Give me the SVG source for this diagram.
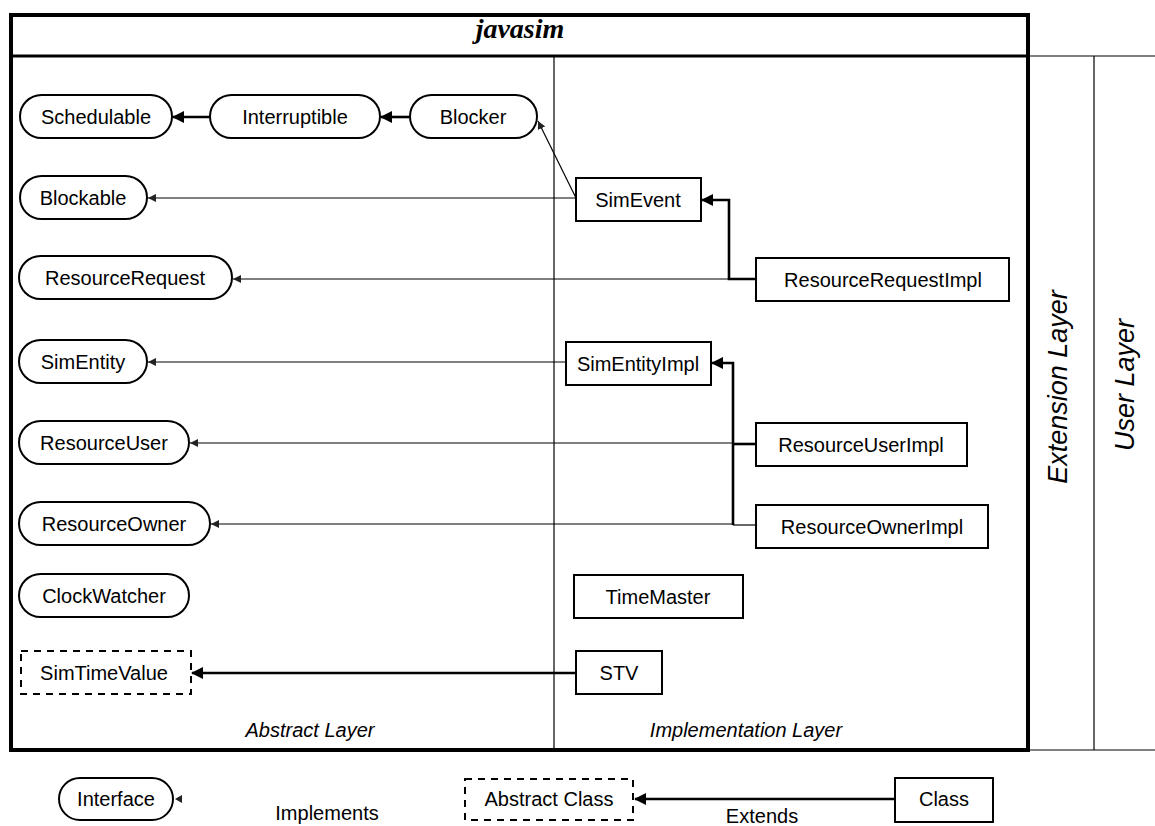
<svg xmlns="http://www.w3.org/2000/svg" width="1155" height="826" viewBox="0 0 1155 826">
<style>
text{font-family:"Liberation Sans",Arial,sans-serif;font-size:20px;fill:#000}
.lbl{text-anchor:middle}
.pill{fill:#fff;stroke:#000;stroke-width:2}
.box{fill:#fff;stroke:#000;stroke-width:2}
.dash{fill:#fff;stroke:#000;stroke-width:2;stroke-dasharray:7 6}
.impl{fill:none;stroke:#000;stroke-width:1.2}
.ext{fill:none;stroke:#000;stroke-width:2.6}
.frame{fill:none;stroke:#000;stroke-width:4}
.thin{fill:none;stroke:#000;stroke-width:1.2}
.layer{font-style:italic;text-anchor:middle}
.side{font-style:italic;text-anchor:middle;font-size:27px}
</style>
<defs>
<marker id="aExt" viewBox="0 0 12 12" refX="11" refY="6" markerWidth="12" markerHeight="12" markerUnits="userSpaceOnUse" orient="auto">
<path d="M0,0 L12,6 L0,12 z" fill="#000"/>
</marker>
<marker id="aImpl" viewBox="0 0 8 8" refX="8" refY="4" markerWidth="8" markerHeight="8" markerUnits="userSpaceOnUse" orient="auto">
<path d="M0,0 L8,4 L0,8 z" fill="#222"/>
</marker>
</defs>
<rect width="1155" height="826" fill="#fff"/>

<g id="frame">
<rect class="frame" x="11" y="15" width="1017" height="735"/>
<line x1="11" y1="56" x2="1028" y2="56" stroke="#000" stroke-width="3"/>
<line class="thin" x1="554" y1="56" x2="554" y2="750"/>
<line class="thin" x1="1028" y1="56" x2="1155" y2="56"/>
<line class="thin" x1="1028" y1="750" x2="1155" y2="750"/>
<line class="thin" x1="1094" y1="56" x2="1094" y2="750"/>
<text x="520" y="38" style="font-family:'Liberation Serif','Times New Roman',serif;font-size:28px;font-weight:bold;font-style:italic" text-anchor="middle">javasim</text>
<text class="layer" x="310" y="737">Abstract Layer</text>
<text class="layer" x="746" y="737">Implementation Layer</text>
<text class="side" transform="translate(1067,387) rotate(-90)">Extension Layer</text>
<text class="side" transform="translate(1134,385) rotate(-90)">User Layer</text>
</g>

<g id="connectors">
<line class="ext" x1="210" y1="117" x2="173" y2="117" marker-end="url(#aExt)"/>
<line class="ext" x1="410" y1="117" x2="381" y2="117" marker-end="url(#aExt)"/>
<line class="impl" x1="576" y1="198" x2="148" y2="198" marker-end="url(#aImpl)"/>
<line class="impl" x1="576" y1="198" x2="538" y2="121" marker-end="url(#aImpl)"/>
<polyline class="ext" points="756,279 729,279 729,200 702,200" marker-end="url(#aExt)"/>
<line class="impl" x1="729" y1="279" x2="233" y2="279" marker-end="url(#aImpl)"/>
<line class="impl" x1="566" y1="362" x2="148" y2="362" marker-end="url(#aImpl)"/>
<polyline class="ext" points="733,525 733,363 712,363" marker-end="url(#aExt)"/>
<line class="ext" x1="756" y1="444" x2="733" y2="444"/>
<line class="impl" x1="756" y1="525" x2="733" y2="525"/>
<line class="impl" x1="733" y1="443" x2="190" y2="443" marker-end="url(#aImpl)"/>
<line class="impl" x1="733" y1="524" x2="211" y2="524" marker-end="url(#aImpl)"/>
<line class="ext" x1="576" y1="673" x2="192" y2="673" marker-end="url(#aExt)"/>
<line class="ext" x1="895" y1="799" x2="635" y2="799" marker-end="url(#aExt)"/>
<path d="M175,799 L182,795 L182,803 z" fill="#222"/>
</g>

<g id="Schedulable"><rect class="pill" x="20" y="95" width="152" height="43" rx="21.5"/><text class="lbl" x="96" y="124">Schedulable</text></g>
<g id="Interruptible"><rect class="pill" x="210" y="95" width="170" height="43" rx="21.5"/><text class="lbl" x="295" y="124">Interruptible</text></g>
<g id="Blocker"><rect class="pill" x="410" y="95" width="127" height="43" rx="21.5"/><text class="lbl" x="473" y="124">Blocker</text></g>
<g id="Blockable"><rect class="pill" x="20" y="176" width="127" height="43" rx="21.5"/><text class="lbl" x="83" y="205">Blockable</text></g>
<g id="SimEvent"><rect class="box" x="576" y="178" width="125" height="43"/><text class="lbl" x="638" y="207">SimEvent</text></g>
<g id="ResourceRequest"><rect class="pill" x="19" y="256" width="213" height="43" rx="21.5"/><text class="lbl" x="125" y="285">ResourceRequest</text></g>
<g id="ResourceRequestImpl"><rect class="box" x="756" y="258" width="253" height="43"/><text class="lbl" x="883" y="287">ResourceRequestImpl</text></g>
<g id="SimEntity"><rect class="pill" x="19" y="340" width="128" height="43" rx="21.5"/><text class="lbl" x="83" y="369">SimEntity</text></g>
<g id="SimEntityImpl"><rect class="box" x="566" y="342" width="145" height="43"/><text class="lbl" x="638" y="371">SimEntityImpl</text></g>
<g id="ResourceUser"><rect class="pill" x="19" y="421" width="170" height="43" rx="21.5"/><text class="lbl" x="104" y="450">ResourceUser</text></g>
<g id="ResourceUserImpl"><rect class="box" x="756" y="423" width="211" height="43"/><text class="lbl" x="861" y="452">ResourceUserImpl</text></g>
<g id="ResourceOwner"><rect class="pill" x="19" y="502" width="191" height="43" rx="21.5"/><text class="lbl" x="114" y="531">ResourceOwner</text></g>
<g id="ResourceOwnerImpl"><rect class="box" x="756" y="505" width="232" height="43"/><text class="lbl" x="872" y="534">ResourceOwnerImpl</text></g>
<g id="ClockWatcher"><rect class="pill" x="19" y="574" width="170" height="43" rx="21.5"/><text class="lbl" x="104" y="603">ClockWatcher</text></g>
<g id="TimeMaster"><rect class="box" x="574" y="575" width="169" height="43"/><text class="lbl" x="658" y="604">TimeMaster</text></g>
<g id="SimTimeValue"><rect class="dash" x="21" y="651" width="170" height="43"/><text class="lbl" x="104" y="680">SimTimeValue</text></g>
<g id="STV"><rect class="box" x="576" y="651" width="86" height="43"/><text class="lbl" x="619" y="680">STV</text></g>

<g id="legend-interface"><rect class="pill" x="59" y="778" width="114" height="42" rx="21"/><text class="lbl" x="116" y="806">Interface</text></g>
<g id="legend-implements"><text class="lbl" x="327" y="820">Implements</text></g>
<g id="legend-abstract"><rect class="dash" x="465" y="779" width="168" height="41"/><text class="lbl" x="549" y="806">Abstract Class</text></g>
<g id="legend-extends"><text class="lbl" x="762" y="823">Extends</text></g>
<g id="legend-class"><rect class="box" x="895" y="778" width="98" height="44"/><text class="lbl" x="944" y="806">Class</text></g>
</svg>
